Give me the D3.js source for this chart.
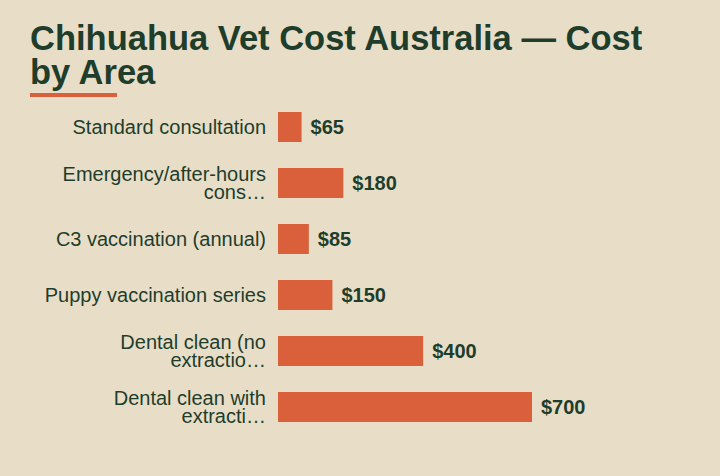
<!DOCTYPE html>
<html><head><meta charset="utf-8">
<script src="https://cdn.jsdelivr.net/npm/d3@7"></script>
<style>body{margin:0;background:#e8dec8;}svg{display:block;}</style>
</head><body><svg id="c" width="720" height="476"></svg>
<script>
const categories = ["Standard consultation","Emergency/after-hours cons…","C3 vaccination (annual)","Puppy vaccination series","Dental clean (no extractio…","Dental clean with extracti…"];
const values = [65,180,85,150,400,700];
const titleLines = ["Chihuahua Vet Cost Australia — Cost","by Area"];

const svg = d3.select("#c");
const ink = "#1f3d2b", accent = "#d9603b";
svg.append("rect").attr("width",720).attr("height",476).attr("fill","#e8dec8");
svg.selectAll("text.t").data(titleLines).join("text").attr("class","t")
  .attr("x",30).attr("y",(d,i)=>50+i*34).attr("fill",ink)
  .attr("font-family","Liberation Sans, Arial, sans-serif").attr("font-weight","bold").attr("font-size",34.5).text(d=>d);
svg.append("rect").attr("x",30).attr("y",93).attr("width",87).attr("height",4).attr("fill",accent);

const x = d3.scaleLinear().domain([0,700]).range([278,532]);
const y = d3.scaleBand().domain(categories).range([99,435]).paddingInner(0.464).paddingOuter(0.232);
const g = svg.append("g").attr("font-family","Liberation Sans, Arial, sans-serif");
g.selectAll("rect.b").data(values).join("rect").attr("class","b")
  .attr("x",x(0)).attr("y",(d,i)=>y(categories[i])).attr("width",d=>x(d)-x(0)).attr("height",y.bandwidth()).attr("fill",accent);
g.selectAll("text.v").data(values).join("text").attr("class","v")
  .attr("x",d=>x(d)+9).attr("y",(d,i)=>y(categories[i])+y.bandwidth()/2).attr("dy","0.35em")
  .attr("font-weight","bold").attr("font-size",20).attr("fill",ink).text(d=>"$"+d);

const lab = g.selectAll("text.l").data(categories).join("text").attr("class","l")
  .attr("text-anchor","end").attr("font-size",20).attr("fill",ink);
lab.each(function(d){
  const t = d3.select(this); const words = d.split(" "); const lines=[]; let cur="";
  const tmp = t.append("tspan");
  for(const w of words){ const test = cur?cur+" "+w:w; tmp.text(test);
    if(tmp.node().getComputedTextLength()>238 && cur){ lines.push(cur); cur=w;} else cur=test; }
  lines.push(cur); tmp.remove();
  const cy = y(d)+y.bandwidth()/2; const lh=18; const y0 = cy-(lines.length-1)*lh/2;
  lines.forEach((l,i)=>t.append("tspan").attr("x",266).attr("y",y0+i*lh).attr("dy","0.35em").text(l));
});
</script></body></html>
